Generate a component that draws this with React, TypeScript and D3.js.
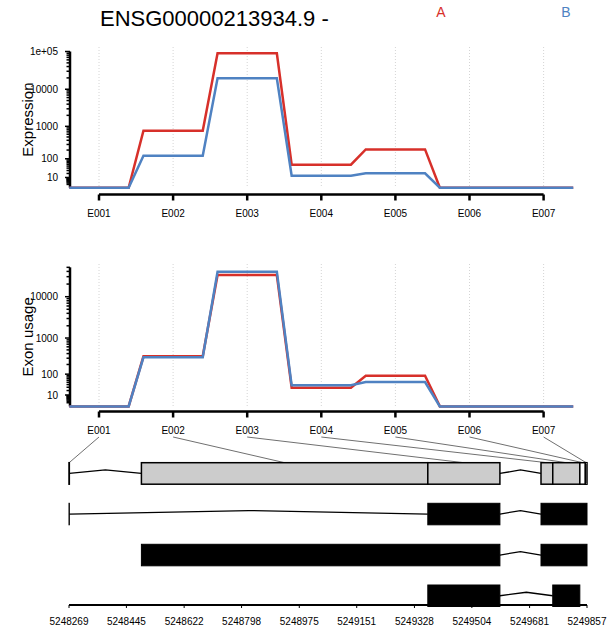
import * as d3 from "d3";

// exon bins and per-condition values
const exons = ["E001", "E002", "E003", "E004", "E005", "E006", "E007"];
const conditions = ["A", "B"];
const colors = ["#D7302A", "#4F82C2"];
const expressionA = [0, 757, 90000, 58, 210, 0, 0];
const expressionB = [0, 129, 19500, 14, 20.5, 0, 0];
const usageA = [0, 338, 32900, 28.5, 88.6, 0, 0];
const usageB = [0, 318, 39400, 37, 51.5, 0, 0];

// y tick labels
const expressionTicks = [10, 100, 1000, 10000, 100000];
const expressionTickLabels = ["10", "100", "1000", "10000", "1e+05"];
const usageTicks = [10, 100, 1000, 10000];
const usageTickLabels = ["10", "100", "1000", "10000"];

// genomic coordinates of the exon bins
const exonStart = [5248269, 5248491, 5249369, 5249716, 5249752, 5249835, 5249852];
const exonEnd = [5248270, 5249369, 5249590, 5249752, 5249835, 5249852, 5249857];
const exonTested = [true, true, true, true, true, false, false];

// transcripts as lists of [start, end]
const transcripts = [
  [[5248269, 5248270], [5249369, 5249590], [5249716, 5249857]],
  [[5248491, 5249590], [5249716, 5249857]],
  [[5249369, 5249590], [5249752, 5249835]],
];

const genomicTicks = [5248269, 5248445, 5248622, 5248798, 5248975, 5249151, 5249328, 5249504, 5249681, 5249857];

const W = 614;
const H = 635;
const font = "'Liberation Sans', Arial, sans-serif";

// variance-stabilising style transform used on the y axis
const vst = (v: number) => 2 * Math.asinh(Math.sqrt(v / 100));

const x = d3.scalePoint<string>().domain(exons).range([99, 543.6]);
const halfW = x.step() * 0.4;

const gx = d3.scaleLinear().domain([genomicTicks[0], genomicTicks[genomicTicks.length - 1]]).range([69, 587]);

function minorTicks(top: number) {
  const out: { v: number; major: boolean }[] = [];
  for (let d = 1; d <= top; d *= 10) {
    for (let m = 1; m <= 9; m++) {
      const v = m * d;
      if (v <= top) out.push({ v, major: m === 1 && d >= 10 });
    }
  }
  return out;
}

function stepLine(values: number[], y: d3.ScaleLinear<number, number>) {
  const pts: [number, number][] = [];
  values.forEach((v, i) => {
    const c = x(exons[i])!;
    pts.push([c - halfW, y(vst(v))]);
    pts.push([c + halfW, y(vst(v))]);
  });
  return d3.line()(pts) || "";
}

function Panel({ label, series, y, ticks, tickLabels, topTick, gridTop, axisY }: any) {
  const base = y(0);
  const axisTop = y(vst(topTick));
  return (
    <g>
      {exons.map((e) => (
        <line key={e} x1={x(e)} x2={x(e)} y1={gridTop} y2={base} stroke="#d4d4d4" strokeWidth={1} strokeDasharray="1,2" />
      ))}
      {/* y axis */}
      <line x1={70} x2={70} y1={base} y2={axisTop} stroke="#000" strokeWidth={2.5} />
      {minorTicks(topTick).map((t) => (
        <line key={t.v} x1={70} x2={t.major ? 65 : 66.5} y1={y(vst(t.v))} y2={y(vst(t.v))} stroke="#000" strokeWidth={1.5} />
      ))}
      {ticks.map((t: number, i: number) => (
        <text key={t} x={58} y={y(vst(t)) + 3.5} fontSize={10} textAnchor="end" fontFamily={font}>
          {tickLabels[i]}
        </text>
      ))}
      <text transform={`translate(33,${(base + axisTop) / 2}) rotate(-90)`} fontSize={15} textAnchor="middle" fontFamily={font}>
        {label}
      </text>
      {series.map((s: number[], i: number) => (
        <path key={i} d={stepLine(s, y)} fill="none" stroke={colors[i]} strokeWidth={2.5} strokeLinejoin="miter" />
      ))}
      {/* x axis */}
      <line x1={x(exons[0])} x2={x(exons[exons.length - 1])} y1={axisY} y2={axisY} stroke="#000" strokeWidth={2.5} />
      {exons.map((e) => (
        <g key={e}>
          <line x1={x(e)} x2={x(e)} y1={axisY} y2={axisY + 6} stroke="#000" strokeWidth={2.5} />
          <text x={x(e)} y={axisY + 22} fontSize={10} textAnchor="middle" fontFamily={font}>
            {e}
          </text>
        </g>
      ))}
    </g>
  );
}

function introns(parts: number[][], mid: number) {
  const out: string[] = [];
  for (let i = 1; i < parts.length; i++) {
    const a = gx(parts[i - 1][1]);
    const b = gx(parts[i][0]);
    if (b - a > 1) out.push(d3.line()([[a, mid], [(a + b) / 2, mid - 3.5], [b, mid]]) || "");
  }
  return out;
}

export default function App() {
  const yExp = d3.scaleLinear().domain([0, vst(100000)]).range([187.7, 51.5]);
  const yUse = d3.scaleLinear().domain([0, vst(10000)]).range([406.4, 296.7]);

  const rowH = 21.5;
  const modelTop = 462.7;
  const rowTops = [503.3, 544.3, 585];
  const mergedParts = exonStart.map((s, i) => [s, exonEnd[i]]);

  return (
    <svg width={W} height={H} style={{ position: "absolute", left: 0, top: 0, background: "#fff" }}>
      <text x={100} y={26} fontSize={22} fontFamily={font}>ENSG00000213934.9 -</text>
      {conditions.map((c, i) => (
        <text key={c} x={[441, 566][i]} y={17} fontSize={14} textAnchor="middle" fill={colors[i]} fontFamily={font}>
          {c}
        </text>
      ))}

      <Panel label="Expression" series={[expressionA, expressionB]} y={yExp} ticks={expressionTicks}
        tickLabels={expressionTickLabels} topTick={100000} gridTop={47} axisY={194.5} />
      <Panel label="Exon usage" series={[usageA, usageB]} y={yUse} ticks={usageTicks}
        tickLabels={usageTickLabels} topTick={50000} gridTop={264} axisY={411.5} />

      {/* connectors from bin labels to exon positions */}
      {exons.map((e, i) => (
        <line key={e} x1={x(e)} y1={437} x2={gx((exonStart[i] + exonEnd[i]) / 2)} y2={modelTop}
          stroke="#707070" strokeWidth={1} />
      ))}

      {/* merged exon model */}
      {introns(mergedParts, modelTop + rowH / 2).map((d, i) => (
        <path key={i} d={d} fill="none" stroke="#000" strokeWidth={1.3} />
      ))}
      {mergedParts.map((p, i) => (
        <rect key={i} x={gx(p[0])} y={modelTop} width={gx(p[1]) - gx(p[0])} height={rowH}
          fill={exonTested[i] ? "#cccccc" : "#ffffff"} stroke="#000" strokeWidth={1.5} />
      ))}

      {/* transcripts */}
      {transcripts.map((t, r) => (
        <g key={r}>
          {introns(t, rowTops[r] + rowH / 2).map((d, i) => (
            <path key={i} d={d} fill="none" stroke="#000" strokeWidth={1.3} />
          ))}
          {t.map((p, i) => (
            <rect key={i} x={gx(p[0])} y={rowTops[r]} width={gx(p[1]) - gx(p[0])} height={rowH}
              fill="#000" stroke="#000" strokeWidth={1} />
          ))}
        </g>
      ))}

      {/* genomic axis */}
      <line x1={gx(genomicTicks[0])} x2={gx(genomicTicks[genomicTicks.length - 1])} y1={605} y2={605} stroke="#000" strokeWidth={2} />
      {genomicTicks.map((t) => (
        <g key={t}>
          <line x1={gx(t)} x2={gx(t)} y1={605} y2={608} stroke="#000" strokeWidth={1} />
          <text x={gx(t)} y={625} fontSize={10} textAnchor="middle" fontFamily={font}>{t}</text>
        </g>
      ))}
    </svg>
  );
}
